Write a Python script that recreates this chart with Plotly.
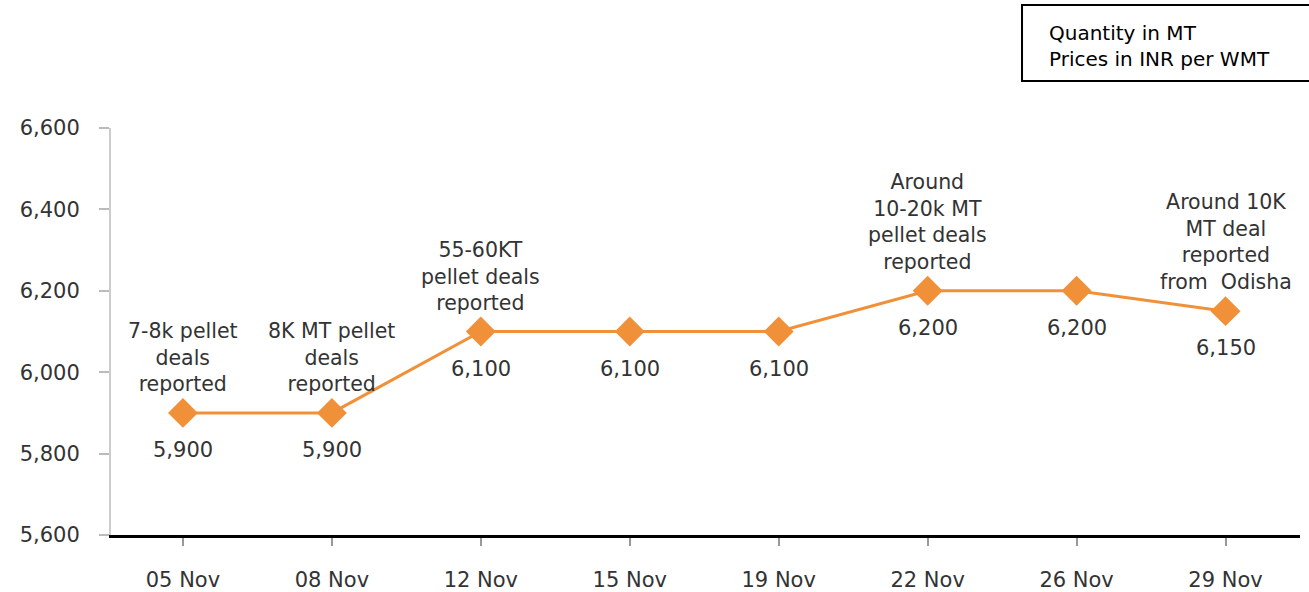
import plotly.graph_objects as go

dates = ["05 Nov", "08 Nov", "12 Nov", "15 Nov", "19 Nov", "22 Nov", "26 Nov", "29 Nov"]
prices = [5900, 5900, 6100, 6100, 6100, 6200, 6200, 6150]
comments = [
    "7-8k pellet<br>deals<br>reported",
    "8K MT pellet<br>deals<br>reported",
    "55-60KT<br>pellet deals<br>reported",
    "",
    "",
    "Around<br>10-20k MT<br>pellet deals<br>reported",
    "",
    "Around 10K<br>MT deal<br>reported<br>from\u00a0 Odisha",
]
y_ticks = [5600, 5800, 6000, 6200, 6400, 6600]

ORANGE = "#F0913A"
TXT = "#333333"
FONT = "DejaVu Sans, Verdana, sans-serif"
FS = 21

fig = go.Figure()
fig.add_trace(go.Scatter(
    x=dates, y=prices, mode="lines+markers",
    line=dict(color=ORANGE, width=3),
    marker=dict(symbol="diamond", size=23, color=ORANGE),
    hoverinfo="skip", showlegend=False,
))

for d, p in zip(dates, prices):
    fig.add_annotation(x=d, y=p, text=f"{p:,}", showarrow=False,
                       yanchor="middle", yshift=-37,
                       font=dict(family=FONT, size=FS, color=TXT))
for d, p, c in zip(dates, prices, comments):
    if c:
        fig.add_annotation(x=d, y=p, text=c, showarrow=False,
                           yanchor="bottom", yshift=15,
                           font=dict(family=FONT, size=FS - 0.5, color=TXT))

# units box (paper coords relative to plot area 111..1300 x 128..535)
fig.add_shape(type="rect", xref="paper", yref="paper",
              x0=0.7662, x1=1.02, y0=1.1155, y1=1.3022,
              line=dict(color="black", width=2), fillcolor="white", layer="below")
fig.add_annotation(xref="paper", yref="paper", x=0.7872, y=1.2027,
                   xanchor="left", yanchor="middle", align="left", showarrow=False,
                   text="Quantity in MT<br>Prices in INR per WMT",
                   font=dict(family=FONT, size=20, color="black"))

fig.update_layout(
    width=1309, height=592,
    margin=dict(l=111, r=9, t=128, b=57, autoexpand=False),
    paper_bgcolor="white", plot_bgcolor="white",
    font=dict(family=FONT, size=FS, color=TXT),
    xaxis=dict(
        type="category", range=[-0.483, 7.5], automargin=False,
        showline=True, linecolor="black", linewidth=3,
        ticks="outside", ticklen=8, tickwidth=2, tickcolor="#999999",
        ticklabelstandoff=16, showgrid=False, zeroline=False,
        tickfont=dict(family=FONT, size=FS, color=TXT),
    ),
    yaxis=dict(
        range=[5600, 6600], tickvals=y_ticks, automargin=False,
        tickformat=",d",
        showline=True, linecolor="#cccccc", linewidth=2,
        ticks="outside", ticklen=10, tickwidth=2, tickcolor="#bbbbbb",
        ticklabelstandoff=15, showgrid=False, zeroline=False,
        tickfont=dict(family=FONT, size=FS, color=TXT),
    ),
)

fig.write_html("out.html", config={"displayModeBar": False},
               post_script="document.body.style.margin='0';document.body.style.overflow='hidden';")
